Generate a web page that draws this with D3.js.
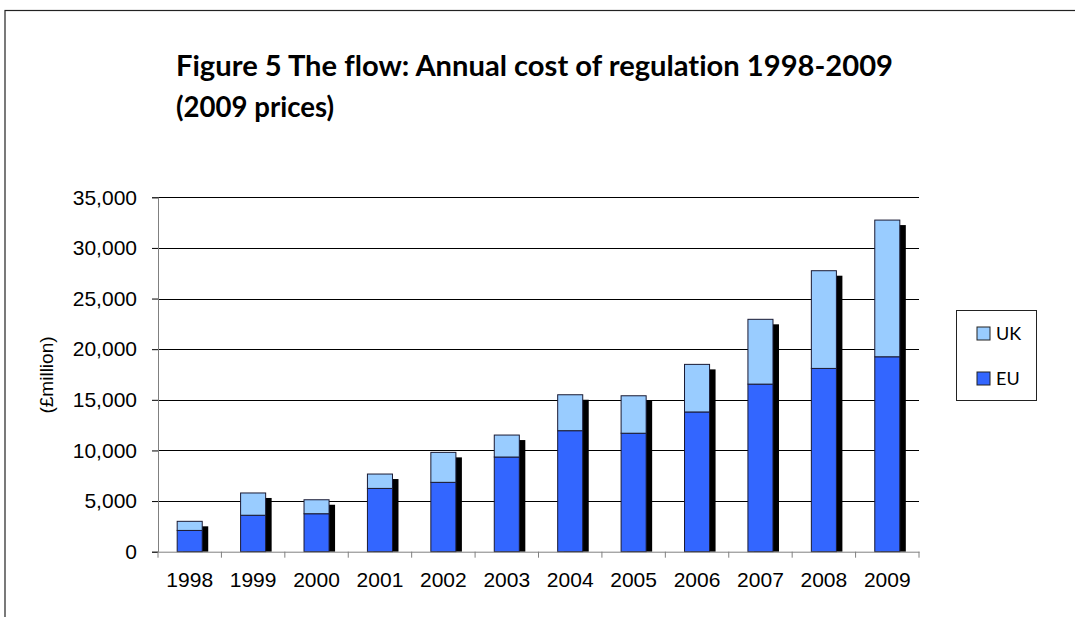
<!DOCTYPE html>
<html><head><meta charset="utf-8">
<script src="https://cdn.jsdelivr.net/npm/d3@7"></script>
<style>body{margin:0;background:#fff}svg{display:block}text{font-variant-ligatures:none}</style>
</head><body>
<svg id="c" width="1075" height="617"></svg>
<script>
const years = ["1998","1999","2000","2001","2002","2003","2004","2005","2006","2007","2008","2009"];
const euValues = [2100,3600,3750,6250,6850,9350,11950,11700,13800,16550,18100,19250];
const ukValues = [900,2200,1380,1420,2960,2170,3550,3700,4700,6400,9650,13500];
const yTicks = [0,5000,10000,15000,20000,25000,30000,35000];
const seriesNames = ["UK","EU"];
const colors = {EU:"#3366FF", UK:"#99CCFF"};

const svg = d3.select("#c");
const L=158, R=919, T=197.3, B=551.7;
const sans = "'Liberation Sans', Arial, sans-serif";
// outer frame
svg.append("rect").attr("x",5).attr("y",10.5).attr("width",1100).attr("height",700)
  .attr("fill","none").attr("stroke","#222").attr("stroke-width",1.2);

// title
const title = svg.append("g").attr("font-family","Lato, 'Open Sans', sans-serif").attr("font-weight","bold").attr("font-size",29).attr("fill","#000");
title.append("text").attr("x",176).attr("y",76).attr("textLength",717).attr("lengthAdjust","spacingAndGlyphs").text("Figure 5 The flow: Annual cost of regulation 1998-2009");
title.append("text").attr("x",176).attr("y",117).attr("textLength",158).attr("lengthAdjust","spacingAndGlyphs").text("(2009 prices)");

const x = d3.scaleBand().domain(years).range([L,R]).padding(0);
const y = d3.scaleLinear().domain([0,35000]).range([B,T]);
const bw = x.bandwidth()*0.395;

// gridlines
svg.append("g").selectAll("line").data(yTicks.filter(d=>d>0)).join("line")
  .attr("x1",L).attr("x2",R).attr("y1",d=>Math.round(y(d))+0.5).attr("y2",d=>Math.round(y(d))+0.5)
  .attr("stroke","#000").attr("stroke-width",1);

// bars
const stack = d3.stack().keys(["EU","UK"])(years.map((yr,i)=>({year:yr,EU:euValues[i],UK:ukValues[i]})));
const gb = svg.append("g");
gb.selectAll("rect.sh").data(years).join("rect").attr("class","sh")
  .attr("x",(d)=>x(d)+(x.bandwidth()-bw)/2+6)
  .attr("y",(d,i)=>y(euValues[i]+ukValues[i])+5)
  .attr("width",bw)
  .attr("height",(d,i)=>B-(y(euValues[i]+ukValues[i])+5))
  .attr("fill","#000");
stack.forEach(s=>{
  gb.selectAll("rect."+s.key).data(s).join("rect").attr("class",s.key)
    .attr("x",d=>x(d.data.year)+(x.bandwidth()-bw)/2)
    .attr("y",d=>y(d[1]))
    .attr("width",bw)
    .attr("height",d=>y(d[0])-y(d[1]))
    .attr("fill",colors[s.key]).attr("stroke","#1a1a33").attr("stroke-width",1);
});

// y axis
const ya = svg.append("g").attr("transform",`translate(${L},0)`)
  .call(d3.axisLeft(y).tickValues(yTicks).tickSize(6).tickPadding(15).tickFormat(d3.format(",")));
ya.select(".domain").attr("stroke","#808080");
ya.selectAll(".tick line").attr("stroke","#000");
ya.selectAll("text").attr("font-family",sans).attr("font-size",21).attr("fill","#000");

// x axis
const xa = svg.append("g").attr("transform",`translate(0,${B})`)
  .call(d3.axisBottom(x).tickSize(0).tickPadding(20));
xa.select(".domain").attr("stroke","#808080");
xa.selectAll("text").attr("font-family",sans).attr("font-size",21).attr("fill","#000");
svg.append("g").selectAll("line").data(d3.range(years.length+1)).join("line")
  .attr("x1",i=>L+i*x.step()).attr("x2",i=>L+i*x.step()).attr("y1",B).attr("y2",B+6)
  .attr("stroke","#808080");

// y label
svg.append("text").attr("transform","translate(53,375) rotate(-90)").attr("text-anchor","middle")
  .attr("font-family",sans).attr("font-size",19).text("(£million)");

// legend
const lg = svg.append("g");
lg.append("rect").attr("x",956.5).attr("y",310.5).attr("width",80).attr("height",90).attr("fill","#fff").attr("stroke","#222");
const items = lg.selectAll("g.it").data(seriesNames).join("g").attr("class","it")
  .attr("transform",(d,i)=>`translate(977,${327+i*45})`);
items.append("rect").attr("width",13).attr("height",13).attr("fill",d=>colors[d]).attr("stroke","#222");
items.append("text").attr("x",19).attr("y",13).attr("font-family","Lato, 'Open Sans', sans-serif").attr("font-size",18).text(d=>d);
</script>
</body></html>
